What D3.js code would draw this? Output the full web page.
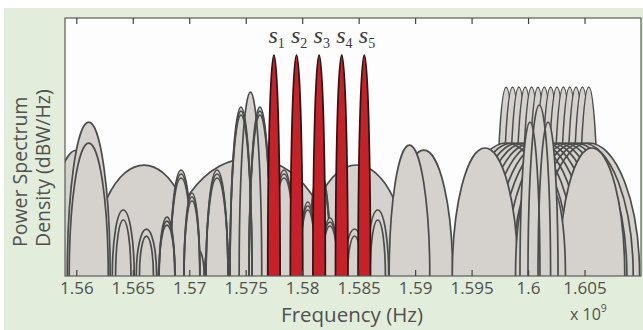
<!DOCTYPE html>
<html>
<head>
<meta charset="utf-8">
<script src="https://cdnjs.cloudflare.com/ajax/libs/d3/7.8.5/d3.min.js"></script>
<style>
  body { margin: 0; background: #fff; }
  svg { display: block; }
  .tick text { font-family: "Open Sans", sans-serif; }
</style>
</head>
<body>
<svg id="chart" width="643" height="330"></svg>
<script>
// frequencies in MHz, levels in dBW/Hz
// every lobe is [centre frequency, half width, peak level]
const tickLabels = ["1.56", "1.565", "1.57", "1.575", "1.58", "1.585", "1.59", "1.595", "1.6", "1.605"];

const pyCode = [[1575.42, 7.5, -95]];
const mCode = [[1566.0, 4.6, -96.75], [1584.8, 4.6, -96.75]];
const prs = [[1560.07, 2.56, -93], [1590.77, 2.56, -93]];
const b1i = [[1561.1, 1.9, -86]];
const b1a = [[1561.1, 1.73, -91.25], [1589.5, 1.8, -91.75]];
const b1aSide = [
  [1564.16, 0.97, -108], [1566.21, 0.9, -112.75], [1568.25, 0.9, -115.75], [1570.30, 0.9, -117.25], [1572.34, 0.9, -118.25],
  [1586.69, 0.97, -108], [1584.64, 0.9, -112.75], [1582.60, 0.9, -115.75], [1580.55, 0.9, -117.25], [1578.51, 0.9, -118.25],
  [1564.16, 0.68, -110.5], [1566.21, 0.62, -114.5], [1586.69, 0.68, -110.5], [1584.64, 0.62, -114.5]
];
const caSide = [
  [1573.89, 0.5, -114], [1572.86, 0.5, -116], [1571.84, 0.5, -117], [1570.82, 0.5, -118],
  [1569.79, 0.5, -118.5], [1568.77, 0.5, -119], [1567.75, 0.5, -119.5],
  [1576.95, 0.5, -114], [1577.98, 0.5, -116], [1579.00, 0.5, -117], [1580.02, 0.5, -118],
  [1581.05, 0.5, -118.5], [1582.07, 0.5, -119], [1583.09, 0.5, -119.5]
];
const bocLadders = [
  [1569.28, 0.97, -98], [1569.28, 0.97, -99], [1569.28, 0.97, -100],
  [1572.46, 0.97, -98], [1572.46, 0.97, -99], [1572.46, 0.97, -100],
  [1578.39, 0.97, -98], [1578.39, 0.97, -99], [1578.39, 0.97, -100],
  [1581.56, 0.97, -98], [1581.56, 0.97, -99], [1581.56, 0.97, -100]
];
const smallLadders = [
  [1570.24, 0.7, -103.75], [1570.24, 0.7, -104.75], [1570.24, 0.7, -105.75],
  [1568.03, 0.7, -109.75], [1568.03, 0.7, -110.75], [1568.03, 0.7, -111.75],
  [1580.50, 0.7, -106], [1580.50, 0.7, -107], [1580.50, 0.7, -108],
  [1582.46, 0.7, -110], [1582.46, 0.7, -111], [1582.46, 0.7, -112]
];
const l1Cluster = [
  [1574.58, 0.97, -82.25], [1574.58, 0.97, -83.25], [1574.58, 0.97, -84.25],
  [1576.26, 0.97, -82.25], [1576.26, 0.97, -83.25], [1576.26, 0.97, -84.25],
  [1575.42, 1.0, -78.5]
];
const glonassChannels = [1598.0625, 1598.625, 1599.1875, 1599.75, 1600.3125, 1600.875, 1601.4375,
  1602.0, 1602.5625, 1603.125, 1603.6875, 1604.25, 1604.8125, 1605.375];
const spHalf = 0.885, spPeak = -77.25;
const hpHalf = 4.5, hpPeak = -91.25;
const l1sc = [[1596.19, 2.9, -92.5], [1605.66, 2.9, -92.5]];
const l1ocInner = [[1599.99, 1.1, -103.5], [1602.21, 1.1, -103.5]];
const l1oc = [[1600.17, 0.885, -86], [1601.77, 0.885, -86], [1600.995, 1.0, -81.75]];
const sLabels = ["1", "2", "3", "4", "5"];
const sSignals = [[1577.5, 0.55, -69.25], [1579.5, 0.55, -69.25], [1581.5, 0.55, -69.25],
  [1583.5, 0.55, -69.25], [1585.5, 0.55, -69.25]];

const W = 643, H = 330;
const margin = {top: 18, right: 2, bottom: 54, left: 65};
const width = W - margin.left - margin.right,
  height = H - margin.top - margin.bottom;

const x = d3.scaleLinear().domain([1559, 1610]).range([0, width]);
const y = d3.scaleLinear().domain([-124.5, -60]).range([height, 0]);
const floor = y.domain()[0];

const svg = d3.select("#chart");

// green panel behind the figure
svg.append("rect").attr("x", 4).attr("y", 8).attr("width", W - 4).attr("height", H - 8)
  .attr("fill", "#e2eedb");

const g = svg.append("g").attr("transform", `translate(${margin.left},${margin.top})`);

g.append("rect").attr("width", width).attr("height", height).attr("fill", "#fdfdfd");

g.append("clipPath").attr("id", "plotclip")
  .append("rect").attr("width", width).attr("height", height);

const plot = g.append("g").attr("clip-path", "url(#plotclip)");

// one lobe of the spectrum as a half ellipse standing on the floor
function lobe(d, closed) {
  const x0 = x(d[0] - d[1]), x1 = x(d[0] + d[1]), yb = y(floor);
  const rx = (x1 - x0) / 2, ry = yb - y(d[2]);
  return `M${x0},${yb}A${rx},${ry} 0 0 1 ${x1},${yb}` + (closed ? "Z" : "");
}

const grayFill = "#d5d1cc", lineCol = "#4b4b4b";

// fills first, then outlines, so every curve of the group stays visible
function drawGroup(lobes, fill, stroke) {
  const grp = plot.append("g");
  grp.selectAll("path.f").data(lobes).join("path").attr("class", "f")
    .attr("d", d => lobe(d, true)).attr("fill", fill);
  grp.selectAll("path.s").data(lobes).join("path").attr("class", "s")
    .attr("d", d => lobe(d, false)).attr("fill", "none")
    .attr("stroke", stroke).attr("stroke-width", 1.7);
}

// each lobe painted over the previous one
function drawStacked(lobes, fill, stroke) {
  plot.append("g").selectAll("path").data(lobes).join("path")
    .attr("d", d => lobe(d, true)).attr("fill", fill)
    .attr("stroke", stroke).attr("stroke-width", 1.5);
}

drawGroup(pyCode, grayFill, lineCol);
drawGroup(mCode, grayFill, lineCol);
drawGroup(prs, grayFill, lineCol);
drawGroup(b1i, grayFill, lineCol);
drawGroup(b1a, grayFill, lineCol);
drawGroup(b1aSide, grayFill, lineCol);
drawGroup(caSide, grayFill, lineCol);
drawGroup(bocLadders, grayFill, lineCol);
drawGroup(smallLadders, grayFill, lineCol);
drawGroup(l1Cluster, grayFill, lineCol);

drawStacked(glonassChannels.map(c => [c, spHalf, spPeak]), grayFill, lineCol);
drawGroup(glonassChannels.map(c => [c, hpHalf, hpPeak]), grayFill, lineCol);
drawGroup(l1sc, grayFill, lineCol);
drawGroup(l1ocInner, grayFill, lineCol);
drawGroup(l1oc, grayFill, lineCol);

drawGroup(sSignals, "#c62028", "#2a1414");

// frame
g.append("rect").attr("width", width).attr("height", height)
  .attr("fill", "none").attr("stroke", "#5a5a5a").attr("stroke-width", 1.2);

const tickValues = tickLabels.map(t => +t * 1000);

const xAxis = g.append("g").attr("transform", `translate(0,${height})`)
  .call(d3.axisBottom(x).tickValues(tickValues).tickSize(-6).tickPadding(6)
    .tickFormat((d, i) => tickLabels[i]));
xAxis.select(".domain").remove();
xAxis.selectAll(".tick line").attr("stroke", "#444").attr("stroke-width", 1.2);
xAxis.selectAll(".tick text").attr("fill", "#505050").attr("font-size", 17);

const topAxis = g.append("g")
  .call(d3.axisTop(x).tickValues(tickValues).tickSize(-6).tickFormat(""));
topAxis.select(".domain").remove();
topAxis.selectAll(".tick line").attr("stroke", "#444").attr("stroke-width", 1.2);

// signal labels s1..s5
const lab = g.selectAll("text.slab").data(sSignals).join("text").attr("class", "slab")
  .attr("x", d => x(d[0]) - 5.5).attr("y", y(-69.25) - 12)
  .attr("font-family", "'Liberation Serif', serif").attr("fill", "#3a3a3a");
lab.append("tspan").attr("font-style", "italic").attr("font-size", 24).text("s");
lab.append("tspan").attr("font-size", 14).attr("dy", 5).text((d, i) => sLabels[i]);

// axis titles
svg.append("text").attr("x", 352).attr("y", 322).attr("text-anchor", "middle")
  .attr("font-family", "'Open Sans', sans-serif").attr("font-size", 20.5).attr("fill", "#505050")
  .text("Frequency (Hz)");

const mult = svg.append("text").attr("x", 570).attr("y", 320)
  .attr("font-family", "'Open Sans', sans-serif").attr("font-size", 16).attr("fill", "#505050");
mult.append("tspan").text("x 10");
mult.append("tspan").attr("font-size", 10.5).attr("dy", -8).text("9");

const yl = svg.append("text").attr("transform", "translate(0,247) rotate(-90)")
  .attr("text-anchor", "start").attr("font-family", "'Open Sans', sans-serif")
  .attr("font-size", 19.5).attr("fill", "#505050");
yl.append("tspan").attr("x", 0).attr("y", 27).text("Power Spectrum");
yl.append("tspan").attr("x", 0).attr("y", 50).text("Density (dBW/Hz)");
</script>
</body>
</html>
